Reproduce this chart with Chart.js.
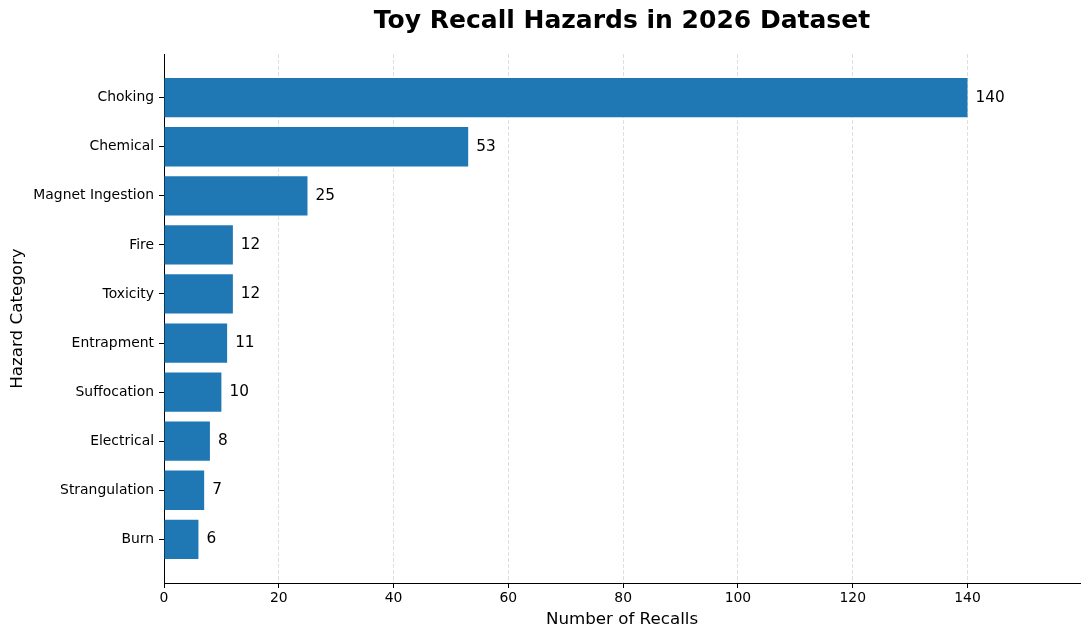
<!DOCTYPE html>
<html>
<head>
<meta charset="utf-8">
<script src="https://cdn.jsdelivr.net/npm/chart.js@4"></script>
<style>
  body { margin: 0; background: #fff; }
  canvas { display: block; }
</style>
</head>
<body>
<canvas id="chart" width="1089" height="640"></canvas>
<script>
const categories = ['Choking', 'Chemical', 'Magnet Ingestion', 'Fire', 'Toxicity',
    'Entrapment', 'Suffocation', 'Electrical', 'Strangulation', 'Burn'];
const recalls = [140, 53, 25, 12, 12, 11, 10, 8, 7, 6];
const xTicks = [0, 20, 40, 60, 80, 100, 120, 140];
const chartTitle = 'Toy Recall Hazards in 2026 Dataset';

const font = 'DejaVu Sans';

// title centred over the plot area, not the whole canvas
const plotTitle = {
    id: 'plotTitle',
    afterDraw(chart) {
        const { ctx, chartArea } = chart;
        ctx.save();
        ctx.font = 'bold 25px "' + font + '"';
        ctx.fillStyle = '#000';
        ctx.textAlign = 'center';
        ctx.textBaseline = 'middle';
        ctx.fillText(chartTitle, (chartArea.left + chartArea.right) / 2, 21);
        ctx.restore();
    }
};

// numbers written just past the end of each bar
const valueLabels = {
    id: 'valueLabels',
    afterDatasetsDraw(chart) {
        const ctx = chart.ctx;
        const meta = chart.getDatasetMeta(0);
        ctx.save();
        ctx.font = '15.3px "' + font + '"';
        ctx.fillStyle = '#000';
        ctx.textAlign = 'left';
        ctx.textBaseline = 'middle';
        meta.data.forEach((bar, i) => {
            ctx.fillText(String(recalls[i]), bar.x + 8, bar.y);
        });
        ctx.restore();
    }
};

const ctx = document.getElementById('chart').getContext('2d');
let chart = new Chart(ctx, {
    type: 'bar',
    data: {
        datasets: [
            {
                data: recalls.map((v, i) => ({ x: v, y: i })),
                backgroundColor: '#1f77b4',
                borderWidth: 0,
                inflateAmount: 0,
                categoryPercentage: 0.8,
                barPercentage: 1.0
            }
        ]
    },
    options: {
        indexAxis: 'y',
        responsive: false,
        animation: false,
        devicePixelRatio: 1,
        layout: { padding: { top: 54, right: 9 } },
        plugins: {
            legend: { display: false },
            tooltip: { enabled: false },
            title: { display: false }
        },
        scales: {
            x: {
                type: 'linear',
                position: 'bottom',
                min: 0,
                max: 159.6,
                afterBuildTicks: (scale) => {
                    scale.ticks = xTicks.map(v => ({ value: v }));
                },
                afterFit: (scale) => { scale.height = 57; },
                ticks: {
                    color: '#000',
                    font: { family: font, size: 13.9 },
                    padding: 2,
                    maxRotation: 0
                },
                grid: {
                    color: 'rgba(176,176,176,0.4)',
                    lineWidth: 1,
                    tickColor: '#000',
                    tickLength: 5,
                    tickBorderDash: []
                },
                border: { display: true, color: '#000', width: 1, dash: [4, 2] },
                title: {
                    display: true,
                    text: 'Number of Recalls',
                    color: '#000',
                    font: { family: font, size: 16.7 },
                    padding: { top: 0, bottom: 10 }
                }
            },
            y: {
                type: 'linear',
                reverse: true,
                offset: false,
                min: -0.89,
                max: categories.length - 1 + 0.89,
                afterBuildTicks: (scale) => {
                    scale.ticks = categories.map((c, i) => ({ value: i }));
                },
                afterFit: (scale) => { scale.width = 164; },
                ticks: {
                    color: '#000',
                    font: { family: font, size: 13.9 },
                    padding: 5,
                    callback: (v) => categories[v]
                },
                grid: {
                    offset: false,
                    drawOnChartArea: false,
                    tickColor: '#000',
                    tickLength: 5
                },
                border: { display: true, color: '#000', width: 1 },
                title: {
                    display: true,
                    text: 'Hazard Category',
                    color: '#000',
                    font: { family: font, size: 16.7 },
                    padding: { top: 8, bottom: 0 }
                }
            }
        }
    },
    plugins: [valueLabels, plotTitle]
});
</script>
</body>
</html>
